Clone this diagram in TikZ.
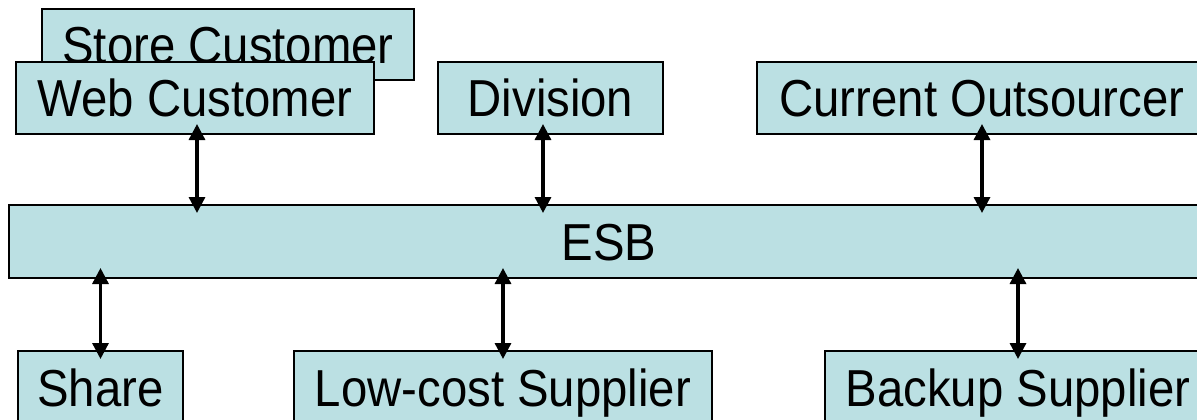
\documentclass[tikz,border=0pt]{standalone}
\usepackage{fontspec}
\setmainfont[FakeStretch=0.91]{Liberation Sans}
\usetikzlibrary{arrows.meta}
\definecolor{boxfill}{RGB}{187,224,227}
\tikzset{
  sysbox/.style={draw=black,line width=2bp,fill=boxfill,inner sep=0pt,anchor=north west,
    text height=37bp,text depth=0bp,font=\fontsize{52bp}{60bp}\selectfont},
  link/.style={line width=3.3bp,{Triangle[width=16bp,length=16bp]}-{Triangle[width=16bp,length=16bp]},
    shorten <=-11bp,shorten >=-9bp}
}
\begin{document}
\begin{tikzpicture}[x=1bp,y=-1bp]
      \useasboundingbox (0,0) rectangle (1197,419);
      \clip (0,0) rectangle (1197,419);
      \node[sysbox,minimum width=372bp,minimum height=71bp] (store) at (41,8) {Store Customer};
      \node[sysbox,minimum width=358bp,minimum height=72bp] (web) at (15,61) {Web Customer};
      \node[sysbox,minimum width=225bp,minimum height=72bp] (div) at (437,61) {Division};
      \node[sysbox,minimum width=450bp,minimum height=72bp] (outs) at (756,61) {Current Outsourcer};
      \node[sysbox,minimum width=1200bp,minimum height=73bp] (esb) at (8,204) {ESB};
      \node[sysbox,minimum width=165bp,minimum height=74bp] (share) at (17,350) {Share};
      \node[sysbox,minimum width=418bp,minimum height=74bp] (low) at (293,350) {Low-cost Supplier};
      \node[sysbox,minimum width=386bp,minimum height=74bp] (back) at (824,350) {Backup Supplier};
      \draw[link] ([xshift=2bp]web.south) -- ([xshift=2bp]web.south |- esb.north);
      \draw[link] ([xshift=-7.5bp]div.south) -- ([xshift=-7.5bp]div.south |- esb.north);
      \draw[link] (outs.south) -- (outs.south |- esb.north);
      \draw[link] (share.north |- esb.south) -- (share.north);
      \draw[link] (low.north |- esb.south) -- (low.north);
      \draw[link] (back.north |- esb.south) -- (back.north);
    \end{tikzpicture}
\end{document}
